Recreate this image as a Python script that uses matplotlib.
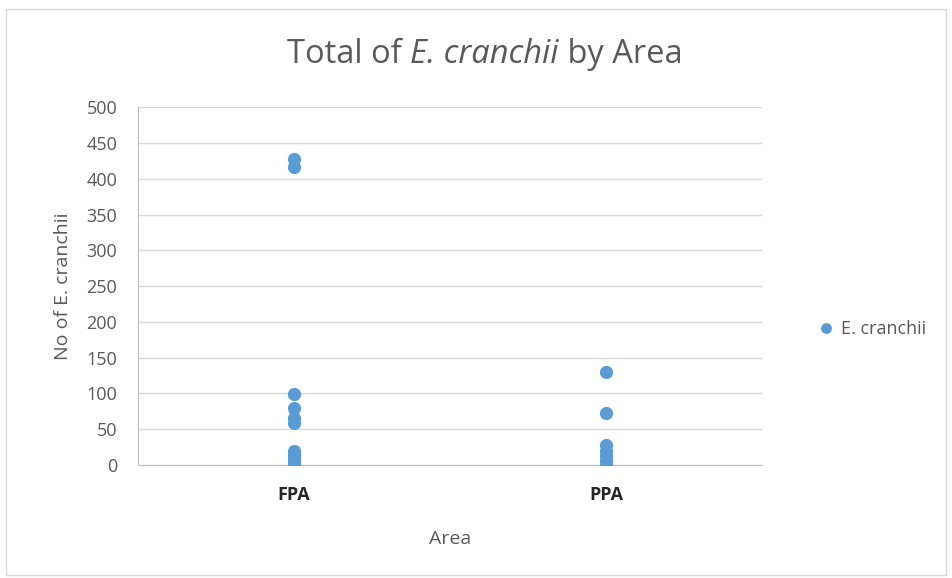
import matplotlib
matplotlib.use("Agg")
import matplotlib.pyplot as plt
from matplotlib.patches import Rectangle

categories = ["FPA", "PPA"]
fpa_values = [428, 416, 99, 80, 66, 58, 20, 14, 8, 3, 0]
ppa_values = [130, 72, 28, 20, 12, 5, 0]
series_name = "E. cranchii"
y_ticks = [0, 50, 100, 150, 200, 250, 300, 350, 400, 450, 500]

plt.rcParams['font.family'] = ['Open Sans', 'DejaVu Sans']

fig = plt.figure(figsize=(9.52, 5.78), dpi=100)
ax = fig.add_axes([0.145, 0.1955, 0.6555, 0.619])

color = "#5B9BD5"
xs = [1] * len(fpa_values) + [2] * len(ppa_values)
ys = fpa_values + ppa_values
ax.plot(xs, ys, 'o', color=color, markersize=8.5, label=series_name, zorder=3)

ax.set_xlim(0.5, 2.5)
ax.set_ylim(0, 500)
ax.set_xticks([1, 2])
ax.set_xticklabels(categories, fontsize=13, color="#262626", fontweight='bold')
ax.set_yticks(y_ticks)
ax.set_yticklabels([str(v) for v in y_ticks], fontsize=13, color="#595959")
ax.tick_params(axis='y', length=0, pad=15)
ax.tick_params(axis='x', length=0, pad=15)
ax.grid(axis='y', color="#D9D9D9", linewidth=1)
ax.set_axisbelow(True)
for s in ["top", "right"]:
    ax.spines[s].set_visible(False)
ax.spines["left"].set_color("#BFBFBF")
ax.spines["bottom"].set_color("#BFBFBF")

ax.set_xlabel("Area", fontsize=14, color="#595959", labelpad=19)
ax.set_ylabel("No of E. cranchii", fontsize=14, color="#595959", labelpad=10)

# Title with mixed italic
fig.canvas.draw()
renderer = fig.canvas.get_renderer()
parts = [("Total of ", "normal"), ("E. cranchii", "italic"), (" by Area", "normal")]
tsize = 23.5
ty = 0.905
texts = []
widths = []
for s, st in parts:
    t = fig.text(0, ty, s, fontsize=tsize, style=st, color="#595959", va='center', ha='left')
    bb = t.get_window_extent(renderer)
    texts.append(t)
    widths.append(bb.width)
total = sum(widths)
x0 = 485 - total / 2
for t, w in zip(texts, widths):
    t.set_x(x0 / fig.bbox.width)
    x0 += w

fig.legend(loc='center left', bbox_to_anchor=(818 / 952, 0.43), frameon=False,
           fontsize=13, handlelength=0.9, handletextpad=0.35, borderpad=0,
           borderaxespad=0, markerscale=0.8, labelcolor="#595959")

fig.patches.append(Rectangle((0.006, 0.005), 0.988, 0.98, transform=fig.transFigure,
                             fill=False, edgecolor="#D9D9D9", linewidth=1))

fig.savefig("out.png", dpi=100)
